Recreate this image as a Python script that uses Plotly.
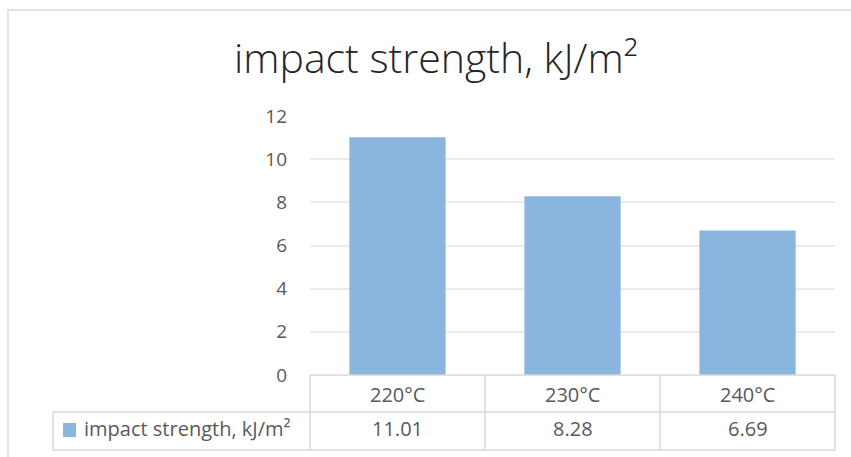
import plotly.graph_objects as go

# Data
categories = ["220°C", "230°C", "240°C"]
values = [11.01, 8.28, 6.69]
value_labels = ["11.01", "8.28", "6.69"]
series_name = "impact strength, kJ/m²"
y_ticks = [0, 2, 4, 6, 8, 10, 12]

W, H = 851, 457
L, R, T, B = 310, 16, 116, 82
plot_w = W - L - R
plot_h = H - T - B

BAR = "#8AB5DF"
GRID = "#EBEBEB"
BORDER = "#D9D9D9"
TXT = "#595959"
FONT = "Open Sans"


def px(x):
    return (x - L) / plot_w


def py(y):
    return (H - B - y) / plot_h


fig = go.Figure(
    go.Bar(
        x=categories,
        y=values,
        marker=dict(color=BAR, line=dict(width=0)),
        name=series_name,
        showlegend=False,
    )
)

shapes = []


def hline(x0, x1, y, color=BORDER, w=1.5):
    shapes.append(dict(type="line", xref="paper", yref="paper",
                       x0=px(x0), x1=px(x1), y0=py(y), y1=py(y),
                       line=dict(color=color, width=w)))


def vline(x, y0, y1, color=BORDER, w=1.5):
    shapes.append(dict(type="line", xref="paper", yref="paper",
                       x0=px(x), x1=px(x), y0=py(y0), y1=py(y1),
                       line=dict(color=color, width=w)))


# Outer chart frame
shapes.append(dict(type="rect", xref="paper", yref="paper",
                   x0=px(8), x1=px(870), y0=py(10), y1=py(480),
                   line=dict(color="#D9D9D9", width=1.5), fillcolor="rgba(0,0,0,0)"))

# Data table grid
col_edges = [L + i * plot_w / 3 for i in range(4)]
row_top, row_mid, row_bot = 375, 412, 450
hline(L, W - R, row_top)
hline(53, W - R, row_mid)
hline(53, W - R, row_bot)
for xe in col_edges:
    vline(xe, row_top, row_bot)
vline(53, row_mid, row_bot)

# Legend key swatch
shapes.append(dict(type="rect", xref="paper", yref="paper",
                   x0=px(63), x1=px(76), y0=py(423), y1=py(437),
                   line=dict(width=0), fillcolor=BAR))

annotations = []
for i, (cat, lab) in enumerate(zip(categories, value_labels)):
    cx = (col_edges[i] + col_edges[i + 1]) / 2
    annotations.append(dict(text=cat, xref="paper", yref="paper", x=px(cx), y=py(394),
                            showarrow=False, xanchor="center", yanchor="middle",
                            font=dict(family=FONT, size=20, color=TXT)))
    annotations.append(dict(text=lab, xref="paper", yref="paper", x=px(cx), y=py(428),
                            showarrow=False, xanchor="center", yanchor="middle",
                            font=dict(family=FONT, size=20, color=TXT)))

annotations.append(dict(text=series_name, xref="paper", yref="paper", x=px(82), y=py(428),
                        showarrow=False, xanchor="left", yanchor="middle",
                        font=dict(family=FONT, size=20, color=TXT)))

# Title
annotations.append(dict(text=series_name, xref="paper", yref="paper", x=px(436), y=py(57),
                        showarrow=False, xanchor="center", yanchor="middle",
                        font=dict(family=FONT, size=41, color="#262626", weight=300)))

fig.update_layout(
    width=W, height=H,
    margin=dict(l=L, r=R, t=T, b=B, pad=0),
    paper_bgcolor="white", plot_bgcolor="white",
    bargap=0.45,
    shapes=shapes,
    annotations=annotations,
    xaxis=dict(showticklabels=False, showgrid=False, zeroline=False, showline=False, ticks=""),
    yaxis=dict(range=[0, 12], tickvals=y_ticks, showgrid=True, gridcolor=GRID, gridwidth=1.5,
               zeroline=False, showline=False, ticks="", ticklabelstandoff=22,
               tickfont=dict(family=FONT, size=19, color=TXT)),
    font=dict(family=FONT),
)

fig.write_html("out.html")
